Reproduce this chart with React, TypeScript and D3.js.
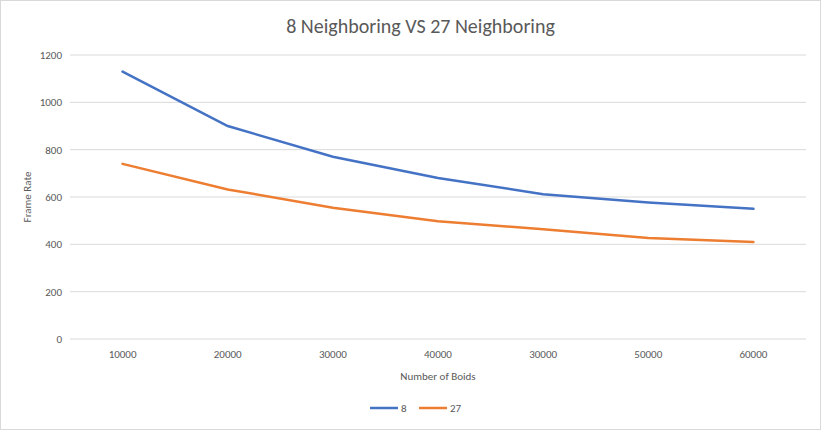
import React from "react";
import * as d3 from "d3";

const categories = ["10000", "20000", "30000", "40000", "30000", "50000", "60000"];
const series8 = [1130, 900, 770, 680, 612, 577, 550];
const series27 = [740, 632, 555, 498, 464, 427, 410];
const yTicks = [0, 200, 400, 600, 800, 1000, 1200];

const W = 821, H = 430;
const left = 70, right = 806, top = 55, bottom = 339;

export default function App() {
  const x = d3.scaleBand<number>().domain(categories.map((_, i) => i)).range([left, right]);
  const y = d3.scaleLinear().domain([0, 1200]).range([bottom, top]);
  const line = d3.line<number>().x((_, i) => x(i)! + x.bandwidth() / 2).y((d) => y(d));
  const font = "Calibri, Carlito, 'Open Sans', sans-serif";
  return (
    <svg width={W} height={H} style={{ position: "absolute", left: 0, top: 0 }} fontFamily={font}>
      <rect x={0.5} y={0.5} width={W - 1} height={H - 1} fill="#fff" stroke="#d9d9d9" />
      <text x={W / 2 + 10} y={33} textAnchor="middle" fontSize={20} fill="#595959">8 Neighboring VS 27 Neighboring</text>
      {yTicks.map((t) => (
        <g key={t}>
          <line x1={left} x2={right} y1={y(t)} y2={y(t)} stroke="#d9d9d9" />
          <text x={left - 8} y={y(t) + 4} textAnchor="end" fontSize={11} fill="#595959">{t}</text>
        </g>
      ))}
      {categories.map((c, i) => (
        <text key={i} x={x(i)! + x.bandwidth() / 2} y={358} textAnchor="middle" fontSize={11} fill="#595959">{c}</text>
      ))}
      <text x={(left + right) / 2} y={380} textAnchor="middle" fontSize={11} fill="#595959">Number of Boids</text>
      <text transform={`translate(31,${(top + bottom) / 2}) rotate(-90)`} textAnchor="middle" fontSize={11} fill="#595959">Frame Rate</text>
      <path d={line(series8)!} fill="none" stroke="#4472c4" strokeWidth={2.5} strokeLinecap="round" />
      <path d={line(series27)!} fill="none" stroke="#ed7d31" strokeWidth={2.5} strokeLinecap="round" />
      <line x1={370} x2={398} y1={408} y2={408} stroke="#4472c4" strokeWidth={2.5} />
      <text x={401} y={412} fontSize={11} fill="#595959">8</text>
      <line x1={419} x2={447} y1={408} y2={408} stroke="#ed7d31" strokeWidth={2.5} />
      <text x={450} y={412} fontSize={11} fill="#595959">27</text>
    </svg>
  );
}
